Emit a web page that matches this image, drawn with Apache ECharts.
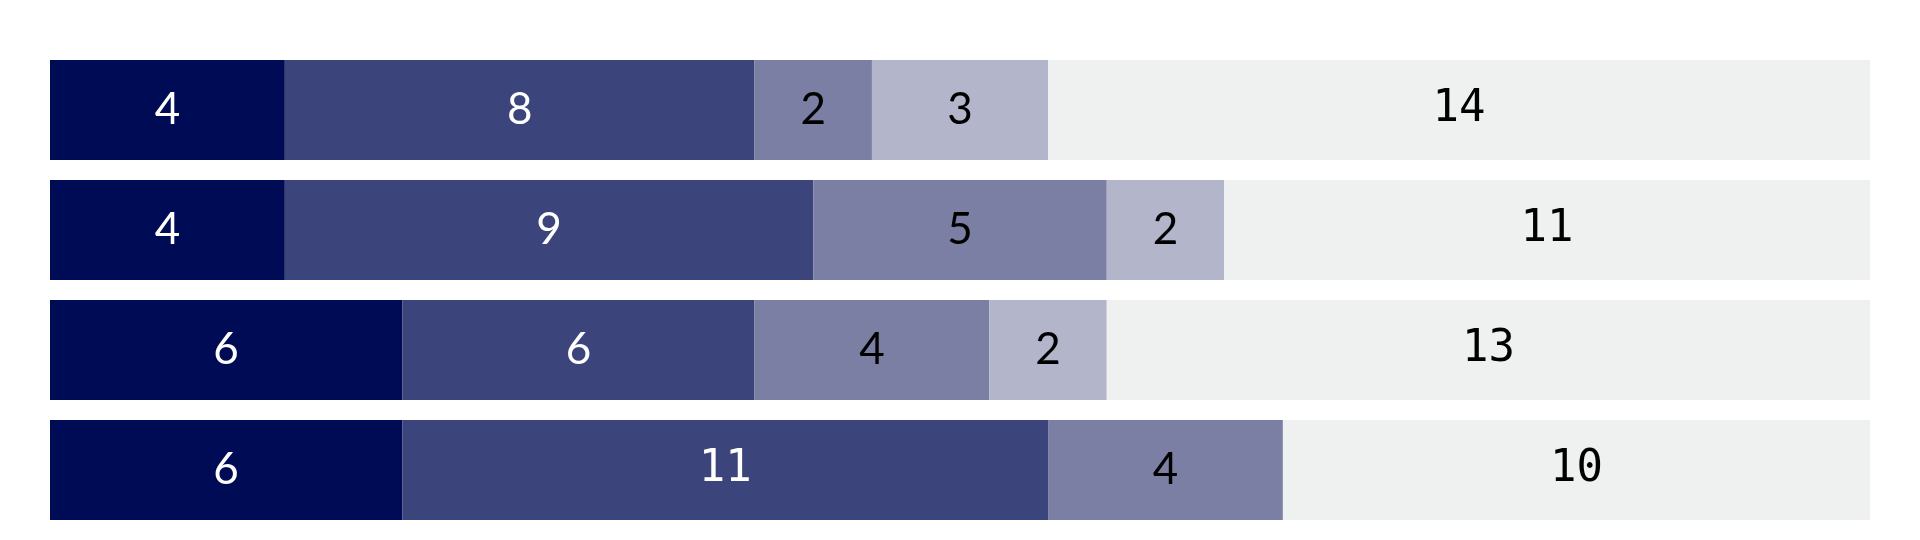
<!DOCTYPE html>
<html>
<head>
<meta charset="utf-8">
<script src="https://cdn.jsdelivr.net/npm/echarts@6/dist/echarts.min.js"></script>
<style>
  html, body { margin: 0; padding: 0; background: #fff; }
  #main { width: 1920px; height: 540px; }
</style>
</head>
<body>
<div id="main"></div>
<script>
/* 数据 */
var rows = ['r1', 'r2', 'r3', 'r4'];
var s1 = [4, 4, 6, 6];
var s2 = [8, 9, 6, 11];
var s3 = [2, 5, 4, 4];
var s4 = [3, 2, 2, 0];
var s5 = [14, 11, 13, 10];

var colors = ['#000b55', '#3b447b', '#7a7fa3', '#b3b6ca', '#eff0f0'];
var textColors = ['#fff', '#fff', '#000', '#000', '#000'];

var myChart = echarts.init(document.getElementById('main'));

function makeSeries(name, data, i) {
  return {
    name: name,
    type: 'bar',
    stack: 'total',
    barWidth: 100,
    data: data,
    itemStyle: { color: colors[i] },
    label: {
      show: true,
      position: 'inside',
      formatter: function (p) {
        if (p.value === 0) return '';
        return String(p.value).length > 1 ? '{m|' + p.value + '}' : '{s|' + p.value + '}';
      },
      rich: {
        s: { fontFamily: 'Lato', fontSize: 44, color: textColors[i] },
        m: { fontFamily: 'DejaVu Sans Mono', fontSize: 44, color: textColors[i] }
      }
    }
  };
}

var option = {
  animation: false,
  grid: { left: 50, right: 50, top: 50, bottom: 10 },
  xAxis: {
    type: 'value',
    min: 0,
    max: 31,
    show: false
  },
  yAxis: {
    type: 'category',
    data: rows,
    inverse: true,
    show: false
  },
  series: [
    makeSeries('a', s1, 0),
    makeSeries('b', s2, 1),
    makeSeries('c', s3, 2),
    makeSeries('d', s4, 3),
    makeSeries('e', s5, 4)
  ]
};
myChart.setOption(option);
</script>
</body>
</html>
